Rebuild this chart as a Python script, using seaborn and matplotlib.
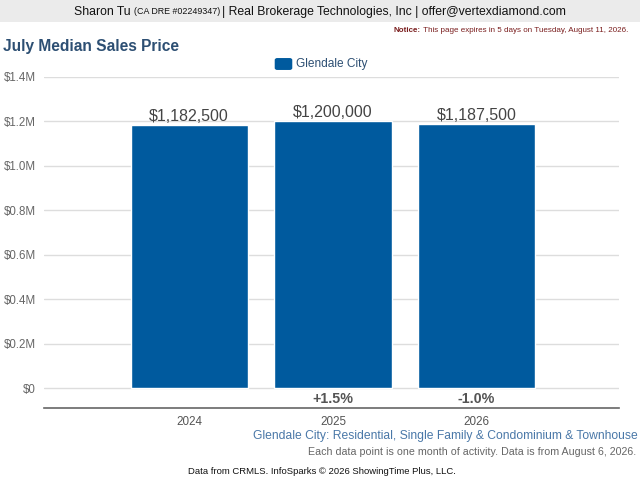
import matplotlib
matplotlib.use("Agg")
import matplotlib.pyplot as plt
from matplotlib.patches import FancyBboxPatch, Rectangle
import seaborn as sns
import pandas as pd

years = ["2024", "2025", "2026"]
prices = [1182500, 1200000, 1187500]
price_labels = ["$1,182,500", "$1,200,000", "$1,187,500"]
pct_labels = ["", "+1.5%", "-1.0%"]
ytick_vals = [0, 200000, 400000, 600000, 800000, 1000000, 1200000, 1400000]
ytick_labels = ["$0", "$0.2M", "$0.4M", "$0.6M", "$0.8M", "$1.0M", "$1.2M", "$1.4M"]
series_name = "Glendale City"

sns.set_theme(style="white")
plt.rcParams["font.family"] = ["Liberation Sans", "DejaVu Sans"]

BAR = "#005a9e"
df = pd.DataFrame({"year": years, "price": prices})

fig = plt.figure(figsize=(6.4, 4.8), dpi=100)
ax = fig.add_axes([44/640, 1-408/480, (619-44)/640, (408-77)/480])
sns.barplot(data=df, x="year", y="price", color=BAR, width=0.815, saturation=1, ax=ax)
ax.set_xlim(-1.01, 2.99)
ax.set_ylim(-0.09e6, 1.4e6)
ax.set_yticks(ytick_vals)
ax.set_yticklabels(ytick_labels, color="#666666", fontsize=8.3)
ax.tick_params(axis="y", length=0, pad=6)
ax.tick_params(axis="x", length=0, pad=6, labelsize=8.4, labelcolor="#555555")
ax.set_xlabel("")
ax.set_ylabel("")
for v in ytick_vals:
    ax.axhline(v, color="#dddddd", lw=1, zorder=0)
for s in ["top", "right", "left"]:
    ax.spines[s].set_visible(False)
ax.spines["bottom"].set_color("#666666")
ax.spines["bottom"].set_linewidth(1.2)

for i, (p, lab) in enumerate(zip(prices, price_labels)):
    ax.text(i, p + 6000, lab, ha="center", va="bottom", fontsize=11.5, color="#444444")
for i, lab in enumerate(pct_labels):
    if lab:
        ax.text(i, -0.048e6, lab, ha="center", va="center", fontsize=10.3,
                fontweight="bold", color="#555555")

# header band
fig.patches.append(Rectangle((0, 1-22/480), 1, 22/480, transform=fig.transFigure,
                             facecolor="#ebebeb", edgecolor="none", zorder=-1))
parts = [("Sharon Tu ", 8.8), ("(CA DRE #02249347) ", 6.4),
         ("| Real Brokerage Technologies, Inc | offer@vertexdiamond.com", 8.8)]
texts = [fig.text(0, 1-12/480, t, fontsize=s, color="#111111", va="center") for t, s in parts]
fig.canvas.draw()
r = fig.canvas.get_renderer()
widths = [t.get_window_extent(r).width for t in texts]
x = 320 - sum(widths)/2
for t, w in zip(texts, widths):
    t.set_x(x/640)
    x += w

# notice
n1 = fig.text(0, 1-31/480, "Notice:", fontsize=5.8, fontweight="bold", color="#7a1e1e", va="center")
n2 = fig.text(0, 1-31/480, " This page expires in 5 days on Tuesday, August 11, 2026.",
              fontsize=5.8, color="#7a1e1e", va="center")
fig.canvas.draw()
w1 = n1.get_window_extent(r).width
w2 = n2.get_window_extent(r).width
n1.set_x((628 - w1 - w2)/640)
n2.set_x((628 - w2)/640)

fig.text(3/640, 1-46/480, "July Median Sales Price", fontsize=11.2, fontweight="bold",
         color="#2d4f73", va="center")

# legend
fig.patches.append(FancyBboxPatch((276/640, 1-69/480), 15/640, 10/480,
                                  boxstyle="round,pad=0.002,rounding_size=0.004",
                                  transform=fig.transFigure, facecolor=BAR, edgecolor="none"))
fig.text(296/640, 1-64/480, series_name, fontsize=8.6, color="#2d4f73", va="center")

fig.text(638/640, 1-436/480, "Glendale City: Residential, Single Family & Condominium & Townhouse",
         fontsize=8.7, color="#4a78a8", ha="right", va="center")
fig.text(636/640, 1-452/480, "Each data point is one month of activity. Data is from August 6, 2026.",
         fontsize=7.7, color="#666666", ha="right", va="center")
fig.text(188/640, 1-471/480, "Data from CRMLS. InfoSparks \u00a9 2026 ShowingTime Plus, LLC.",
         fontsize=6.8, color="#111111", ha="left", va="center")

fig.savefig("out.png", dpi=100)
